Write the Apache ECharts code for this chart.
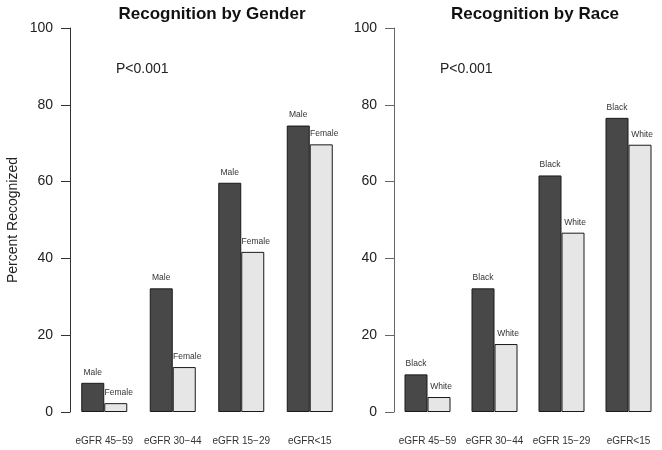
<!DOCTYPE html>
<html>
<head>
<meta charset="utf-8">
<script src="https://cdn.jsdelivr.net/npm/echarts@6/dist/echarts.min.js"></script>
<style>
  html, body { margin: 0; padding: 0; background: #fff; }
  #chart { width: 662px; height: 450px; }
</style>
</head>
<body>
<div id="chart"></div>
<script>
// values (percent recognized)
const categories = ["eGFR 45\u221259", "eGFR 30\u221244", "eGFR 15\u221229", "eGFR<15"];
const maleVals = [7.6, 32.2, 59.7, 74.6];
const femaleVals = [2.3, 11.7, 41.7, 69.7];
const blackVals = [9.8, 32.2, 61.6, 76.6];
const whiteVals = [3.9, 17.7, 46.7, 69.6];
const yTicks = [0, 20, 40, 60, 80, 100];

const FONT = "Liberation Sans, Arial, sans-serif";
const DARK = "#484848";
const LIGHT = "#e6e6e6";

const chart = echarts.init(document.getElementById("chart"), null, { renderer: "canvas" });

function xAxis(gridIndex) {
  return {
    type: "category",
    gridIndex,
    data: categories,
    boundaryGap: true,
    axisLine: { show: false },
    axisTick: { show: false },
    axisLabel: { color: "#333", fontSize: 10, fontFamily: FONT, margin: 24, interval: 0 }
  };
}

function yAxis(gridIndex, lineColor, name) {
  return {
    type: "value",
    gridIndex,
    min: yTicks[0],
    max: yTicks[yTicks.length - 1],
    interval: 20,
    name,
    nameLocation: "middle",
    nameRotate: 90,
    nameGap: 50,
    nameTextStyle: { color: "#222", fontSize: 14, fontFamily: FONT },
    axisLine: { show: true, lineStyle: { color: lineColor, width: 1 } },
    axisTick: { show: true, length: 9, lineStyle: { color: lineColor } },
    axisLabel: { color: "#222", fontSize: 14, fontFamily: FONT, margin: 17 },
    splitLine: { show: false }
  };
}

function barSeries(name, data, color, axisIdx, labelOffset) {
  return {
    type: "bar",
    name,
    data,
    xAxisIndex: axisIdx,
    yAxisIndex: axisIdx,
    barWidth: 23,
    barGap: "0%",
    itemStyle: { color, borderColor: "#1a1a1a", borderWidth: 1 },
    label: {
      show: true,
      position: "top",
      distance: 6,
      offset: labelOffset,
      formatter: name,
      color: "#333",
      fontSize: 8.5,
      fontFamily: FONT
    },
    animation: false
  };
}

chart.setOption({
  backgroundColor: "#fff",
  animation: false,
  title: [
    { text: "Recognition by Gender", left: 207, top: 1, textAlign: "center",
      textStyle: { fontSize: 17, fontWeight: "bold", color: "#111", fontFamily: FONT } },
    { text: "Recognition by Race", left: 530, top: 1, textAlign: "center",
      textStyle: { fontSize: 17, fontWeight: "bold", color: "#111", fontFamily: FONT } },
    { text: "P<0.001", left: 111, top: 57,
      textStyle: { fontSize: 14, fontWeight: "normal", color: "#222", fontFamily: FONT } },
    { text: "P<0.001", left: 435, top: 57,
      textStyle: { fontSize: 14, fontWeight: "normal", color: "#222", fontFamily: FONT } }
  ],
  grid: [
    { left: 70, top: 28, width: 274, bottom: 38 },
    { left: 394, top: 28, width: 274, bottom: 38 }
  ],
  xAxis: [xAxis(0), xAxis(1)],
  yAxis: [yAxis(0, "#333", "Percent Recognized"), yAxis(1, "#666", "")],
  series: [
    barSeries("Male", maleVals, DARK, 0, [0, 0]),
    barSeries("Female", femaleVals, LIGHT, 0, [3, 0]),
    barSeries("Black", blackVals, DARK, 1, [0, 0]),
    barSeries("White", whiteVals, LIGHT, 1, [2, 0])
  ]
});
</script>
</body>
</html>
